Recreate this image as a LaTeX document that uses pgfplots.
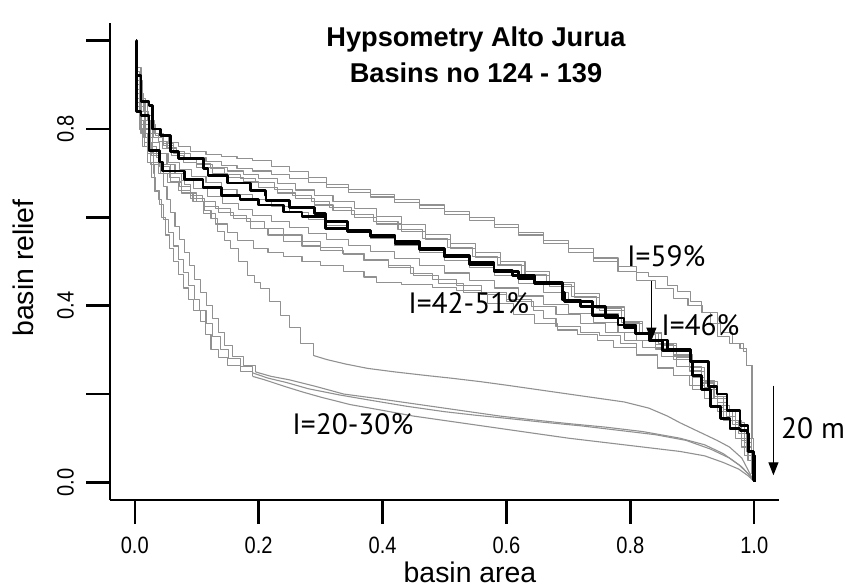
\documentclass[border=0pt]{standalone}
\usepackage{fontspec}
\setmainfont{Liberation Sans}
\newfontfamily\annot{PT Sans}
\usepackage{pgfplots}
\pgfplotsset{compat=1.18}
\usetikzlibrary{arrows.meta}
\definecolor{gl}{RGB}{145,145,145}
\begin{document}
\begin{tikzpicture}
\path[use as bounding box] (0,0) rectangle (422.5pt,293pt);
\begin{axis}[
  at={(55pt,43pt)}, anchor=south west,
  scale only axis, width=334.5pt, height=238.5pt,
  xmin=-0.04, xmax=1.04, ymin=-0.04, ymax=1.04,
  axis x line*=bottom, axis y line*=left,
  axis line style={line width=1.2pt,-},
  every tick/.style={line width=1.2pt, black},
  tick align=outside, major tick length=12pt,
  xtick={0,0.2,0.4,0.6,0.8,1}, xticklabels={0.0,0.2,0.4,0.6,0.8,1.0},
  ytick={0,0.2,0.4,0.6,0.8,1}, yticklabels={0.0,,0.4,,0.8,},
  tick label style={font=\fontsize{11.8}{13}\selectfont},
  xticklabel style={xscale=0.85},
  yticklabel style={rotate=90, xscale=0.85, anchor=south},
  xticklabel shift=3pt, yticklabel shift=2.5pt,
  clip=false,
  const plot,
  every axis plot/.append style={line join=round},
]
% ---- grey basins ----
\addplot[gl, line width=0.55pt] coordinates {(0.004,0.94)(0.010,0.87)(0.018,0.83)(0.028,0.80)(0.04,0.785)(0.055,0.77)(0.07,0.76)(0.09,0.75)(0.115,0.742)(0.14,0.737)(0.165,0.733)(0.19,0.728)(0.22,0.715)(0.25,0.703)(0.28,0.69)(0.31,0.675)(0.345,0.664)(0.38,0.652)(0.42,0.641)(0.46,0.628)(0.50,0.613)(0.54,0.599)(0.58,0.583)(0.62,0.566)(0.66,0.548)(0.70,0.53)(0.74,0.508)(0.78,0.488)(0.81,0.475)(0.83,0.466)(0.86,0.445)(0.876,0.432)(0.897,0.41)(0.915,0.385)(0.94,0.33)(0.96,0.315)(0.977,0.303)(0.988,0.265)(0.997,0.1)(0.999,0.01)};
\addplot[gl, line width=0.55pt] coordinates {(0.003,0.92)(0.008,0.86)(0.016,0.82)(0.026,0.79)(0.038,0.772)(0.052,0.757)(0.068,0.745)(0.09,0.735)(0.115,0.726)(0.14,0.718)(0.165,0.71)(0.19,0.705)(0.22,0.697)(0.25,0.688)(0.28,0.678)(0.31,0.668)(0.345,0.657)(0.38,0.646)(0.42,0.634)(0.46,0.62)(0.50,0.607)(0.54,0.592)(0.58,0.577)(0.62,0.56)(0.66,0.541)(0.70,0.521)(0.74,0.50)(0.78,0.477)(0.81,0.458)(0.84,0.438)(0.87,0.416)(0.893,0.40)(0.916,0.385)(0.93,0.36)(0.945,0.34)(0.965,0.315)(0.982,0.296)(0.988,0.265)(0.996,0.1)(0.999,0.02)};
\addplot[gl, line width=0.55pt] coordinates {(0.003,0.93)(0.007,0.88)(0.014,0.84)(0.022,0.81)(0.033,0.785)(0.047,0.762)(0.062,0.745)(0.08,0.73)(0.1,0.72)(0.125,0.712)(0.15,0.705)(0.175,0.697)(0.2,0.688)(0.23,0.676)(0.26,0.662)(0.29,0.65)(0.32,0.636)(0.355,0.62)(0.39,0.602)(0.43,0.583)(0.47,0.562)(0.51,0.54)(0.55,0.52)(0.59,0.50)(0.63,0.478)(0.67,0.452)(0.71,0.427)(0.75,0.397)(0.79,0.364)(0.82,0.34)(0.85,0.315)(0.875,0.29)(0.9,0.26)(0.92,0.228)(0.94,0.19)(0.955,0.16)(0.97,0.13)(0.985,0.09)(0.995,0.03)};
\addplot[gl, line width=0.55pt] coordinates {(0.004,0.90)(0.01,0.85)(0.018,0.81)(0.03,0.78)(0.045,0.755)(0.06,0.74)(0.078,0.725)(0.1,0.712)(0.125,0.70)(0.15,0.69)(0.175,0.68)(0.2,0.668)(0.23,0.655)(0.26,0.642)(0.29,0.628)(0.32,0.615)(0.355,0.60)(0.39,0.585)(0.43,0.568)(0.47,0.55)(0.51,0.53)(0.55,0.51)(0.59,0.49)(0.63,0.468)(0.67,0.444)(0.71,0.418)(0.75,0.39)(0.79,0.36)(0.82,0.336)(0.85,0.31)(0.875,0.283)(0.9,0.25)(0.92,0.215)(0.94,0.175)(0.96,0.14)(0.975,0.11)(0.988,0.07)(0.997,0.02)};
\addplot[gl, line width=0.55pt] coordinates {(0.005,0.91)(0.012,0.86)(0.02,0.82)(0.032,0.79)(0.046,0.768)(0.062,0.75)(0.08,0.735)(0.1,0.722)(0.122,0.71)(0.145,0.698)(0.17,0.688)(0.195,0.678)(0.225,0.664)(0.255,0.65)(0.285,0.636)(0.315,0.622)(0.35,0.607)(0.385,0.59)(0.425,0.572)(0.465,0.552)(0.505,0.532)(0.545,0.512)(0.585,0.492)(0.625,0.47)(0.665,0.447)(0.705,0.42)(0.745,0.393)(0.785,0.362)(0.815,0.34)(0.845,0.315)(0.87,0.29)(0.895,0.262)(0.915,0.23)(0.935,0.195)(0.955,0.16)(0.97,0.135)(0.985,0.1)(0.995,0.04)(0.999,0.01)};
\addplot[gl, line width=0.55pt] coordinates {(0.003,0.89)(0.008,0.84)(0.016,0.80)(0.026,0.77)(0.04,0.745)(0.055,0.725)(0.072,0.708)(0.092,0.692)(0.115,0.678)(0.14,0.664)(0.165,0.652)(0.19,0.64)(0.22,0.625)(0.25,0.61)(0.28,0.596)(0.31,0.582)(0.345,0.567)(0.38,0.552)(0.42,0.536)(0.46,0.52)(0.50,0.503)(0.54,0.486)(0.58,0.468)(0.62,0.45)(0.66,0.43)(0.70,0.408)(0.74,0.383)(0.78,0.357)(0.81,0.335)(0.84,0.312)(0.87,0.286)(0.895,0.26)(0.915,0.23)(0.935,0.195)(0.95,0.165)(0.965,0.14)(0.98,0.11)(0.99,0.06)(0.998,0.01)};
\addplot[gl, line width=0.55pt] coordinates {(0.004,0.87)(0.009,0.82)(0.017,0.78)(0.028,0.745)(0.042,0.72)(0.058,0.70)(0.075,0.683)(0.095,0.665)(0.118,0.648)(0.142,0.632)(0.167,0.618)(0.19,0.605)(0.22,0.59)(0.25,0.577)(0.28,0.563)(0.31,0.55)(0.345,0.536)(0.38,0.522)(0.42,0.506)(0.46,0.49)(0.50,0.474)(0.54,0.457)(0.58,0.44)(0.62,0.422)(0.66,0.403)(0.70,0.383)(0.74,0.362)(0.78,0.34)(0.81,0.322)(0.84,0.302)(0.87,0.278)(0.895,0.252)(0.915,0.225)(0.935,0.19)(0.95,0.16)(0.965,0.13)(0.98,0.095)(0.99,0.05)(0.998,0.01)};
\addplot[gl, line width=0.55pt] coordinates {(0.003,0.86)(0.008,0.80)(0.015,0.76)(0.025,0.725)(0.038,0.70)(0.053,0.678)(0.07,0.66)(0.09,0.642)(0.112,0.625)(0.135,0.61)(0.16,0.597)(0.187,0.575)(0.215,0.56)(0.24,0.545)(0.27,0.535)(0.3,0.525)(0.337,0.515)(0.37,0.505)(0.41,0.49)(0.445,0.472)(0.48,0.46)(0.52,0.445)(0.56,0.43)(0.6,0.414)(0.64,0.398)(0.68,0.38)(0.72,0.36)(0.76,0.34)(0.79,0.322)(0.82,0.305)(0.85,0.285)(0.875,0.262)(0.9,0.238)(0.92,0.21)(0.94,0.18)(0.955,0.15)(0.97,0.12)(0.985,0.08)(0.996,0.02)};
\addplot[gl, line width=0.55pt] coordinates {(0.003,0.88)(0.008,0.81)(0.016,0.77)(0.027,0.74)(0.04,0.715)(0.056,0.69)(0.072,0.67)(0.09,0.65)(0.11,0.635)(0.13,0.62)(0.155,0.605)(0.18,0.59)(0.21,0.575)(0.24,0.56)(0.27,0.546)(0.3,0.532)(0.335,0.518)(0.37,0.503)(0.41,0.486)(0.45,0.468)(0.49,0.45)(0.53,0.43)(0.57,0.405)(0.611,0.38)(0.645,0.36)(0.682,0.345)(0.715,0.335)(0.747,0.322)(0.773,0.306)(0.81,0.288)(0.844,0.26)(0.87,0.242)(0.895,0.22)(0.92,0.19)(0.94,0.16)(0.96,0.12)(0.98,0.08)(0.995,0.02)};
\addplot[gl, line width=0.55pt] coordinates {(0.004,0.85)(0.01,0.79)(0.02,0.75)(0.03,0.72)(0.042,0.70)(0.058,0.68)(0.075,0.655)(0.094,0.635)(0.111,0.608)(0.13,0.585)(0.15,0.565)(0.166,0.548)(0.192,0.529)(0.215,0.52)(0.24,0.511)(0.27,0.50)(0.3,0.491)(0.337,0.477)(0.37,0.465)(0.39,0.452)(0.43,0.447)(0.48,0.442)(0.52,0.435)(0.56,0.425)(0.6,0.41)(0.644,0.39)(0.66,0.37)(0.68,0.352)(0.72,0.34)(0.75,0.332)(0.784,0.314)(0.81,0.29)(0.844,0.258)(0.87,0.242)(0.9,0.21)(0.93,0.17)(0.95,0.14)(0.97,0.10)(0.985,0.06)(0.997,0.01)};
% ---- steep basins: stepped upper part, smooth lower part ----
\addplot[gl, line width=0.55pt] coordinates {(0.003,0.88)(0.008,0.82)(0.014,0.78)(0.02,0.745)(0.026,0.72)(0.031,0.70)(0.032,0.658)(0.038,0.64)(0.043,0.60)(0.05,0.56)(0.056,0.53)(0.063,0.50)(0.07,0.47)(0.079,0.44)(0.087,0.415)(0.095,0.39)(0.106,0.364)(0.114,0.335)(0.123,0.30)(0.135,0.282)(0.15,0.265)(0.171,0.251)(0.19,0.24)};
\addplot[gl, line width=0.55pt, sharp plot] coordinates {(0.19,0.24)(0.21,0.232)(0.24,0.218)(0.27,0.205)(0.3,0.193)(0.348,0.176)(0.4,0.163)(0.45,0.15)(0.5,0.14)(0.55,0.13)(0.59,0.122)(0.64,0.112)(0.7,0.10)(0.76,0.09)(0.82,0.08)(0.88,0.07)(0.92,0.06)(0.95,0.045)(0.975,0.03)(0.99,0.015)(0.998,0.005)};
\addplot[gl, line width=0.55pt] coordinates {(0.004,0.90)(0.01,0.83)(0.018,0.79)(0.026,0.76)(0.035,0.735)(0.042,0.71)(0.046,0.67)(0.052,0.64)(0.058,0.61)(0.065,0.58)(0.072,0.55)(0.08,0.52)(0.088,0.49)(0.097,0.46)(0.106,0.43)(0.116,0.40)(0.126,0.37)(0.135,0.34)(0.145,0.31)(0.158,0.285)(0.175,0.265)(0.195,0.25)};
\addplot[gl, line width=0.55pt, sharp plot] coordinates {(0.195,0.25)(0.22,0.24)(0.25,0.232)(0.29,0.218)(0.337,0.20)(0.39,0.19)(0.45,0.178)(0.5,0.168)(0.55,0.158)(0.59,0.15)(0.64,0.142)(0.7,0.133)(0.76,0.125)(0.82,0.115)(0.88,0.10)(0.92,0.085)(0.95,0.065)(0.975,0.04)(0.99,0.02)(0.998,0.005)};
\addplot[gl, line width=0.55pt] coordinates {(0.003,0.86)(0.007,0.80)(0.013,0.76)(0.02,0.725)(0.027,0.69)(0.034,0.66)(0.04,0.63)(0.047,0.595)(0.054,0.565)(0.062,0.535)(0.07,0.505)(0.078,0.475)(0.087,0.445)(0.096,0.415)(0.105,0.39)(0.115,0.36)(0.125,0.33)(0.138,0.30)(0.152,0.28)(0.17,0.262)(0.19,0.248)};
\addplot[gl, line width=0.55pt, sharp plot] coordinates {(0.19,0.248)(0.215,0.236)(0.245,0.226)(0.28,0.212)(0.33,0.198)(0.38,0.186)(0.44,0.172)(0.5,0.16)(0.55,0.152)(0.6,0.145)(0.66,0.136)(0.72,0.128)(0.78,0.118)(0.84,0.108)(0.89,0.095)(0.93,0.075)(0.96,0.055)(0.98,0.035)(0.993,0.015)(0.999,0.003)};
\addplot[gl, line width=0.55pt] coordinates {(0.004,0.90)(0.01,0.84)(0.018,0.80)(0.028,0.77)(0.04,0.745)(0.052,0.72)(0.065,0.70)(0.08,0.675)(0.09,0.655)(0.1,0.636)(0.112,0.615)(0.123,0.597)(0.134,0.568)(0.145,0.548)(0.155,0.529)(0.168,0.50)(0.182,0.468)(0.193,0.452)(0.203,0.439)(0.218,0.41)(0.235,0.378)(0.25,0.35)(0.268,0.315)(0.289,0.287)};
\addplot[gl, line width=0.55pt, sharp plot] coordinates {(0.289,0.287)(0.31,0.278)(0.34,0.268)(0.376,0.258)(0.42,0.25)(0.47,0.242)(0.51,0.236)(0.558,0.228)(0.6,0.22)(0.65,0.21)(0.7,0.20)(0.75,0.19)(0.79,0.182)(0.83,0.168)(0.86,0.15)(0.88,0.135)(0.91,0.115)(0.94,0.095)(0.96,0.08)(0.98,0.055)(0.993,0.02)(0.999,0.003)};
% ---- black basins ----
\addplot[black, line width=1.35pt] coordinates {(0.002,1.000)(0.003,0.840)(0.010,0.830)(0.023,0.752)(0.040,0.725)(0.045,0.705)(0.080,0.686)(0.110,0.668)(0.140,0.650)(0.170,0.640)(0.200,0.628)(0.240,0.612)(0.270,0.602)(0.308,0.575)(0.343,0.568)(0.380,0.556)(0.420,0.540)(0.460,0.527)(0.500,0.510)(0.540,0.494)(0.580,0.477)(0.620,0.462)(0.645,0.452)(0.690,0.413)(0.720,0.398)(0.760,0.372)(0.790,0.350)(0.808,0.337)(0.832,0.322)(0.860,0.300)(0.897,0.274)(0.900,0.242)(0.915,0.210)(0.929,0.172)(0.945,0.145)(0.961,0.122)(0.977,0.118)(0.989,0.111)(0.990,0.070)(0.998,0.005)(1.0,0.005)};
\addplot[black, line width=1.35pt] coordinates {(0.002,0.921)(0.010,0.862)(0.023,0.853)(0.029,0.800)(0.042,0.785)(0.058,0.749)(0.071,0.733)(0.111,0.710)(0.118,0.695)(0.150,0.678)(0.187,0.660)(0.211,0.649)(0.212,0.638)(0.250,0.622)(0.290,0.608)(0.308,0.590)(0.343,0.570)(0.380,0.560)(0.420,0.546)(0.460,0.530)(0.500,0.514)(0.540,0.497)(0.580,0.480)(0.610,0.468)(0.645,0.450)(0.690,0.430)(0.694,0.410)(0.739,0.378)(0.780,0.356)(0.808,0.337)(0.830,0.321)(0.852,0.299)(0.869,0.299)(0.897,0.274)(0.926,0.217)(0.940,0.200)(0.956,0.163)(0.977,0.129)(0.990,0.110)(0.991,0.070)(0.999,0.060)(1.0,0.0)};
% ---- annotations ----
\draw[line width=0.6pt, -{Triangle[length=6.5pt,width=5pt]}] (axis cs:0.834,0.457) -- (axis cs:0.834,0.321);
\draw[line width=0.6pt, -{Triangle[length=6.5pt,width=5pt]}] (axis cs:1.031,0.219) -- (axis cs:1.031,0.016);
\node[font=\annot\fontsize{14.7}{16}\selectfont] at (axis cs:0.858,0.511) {I=59\%};
\node[font=\annot\fontsize{14.7}{16}\selectfont] at (axis cs:0.539,0.405) {I=42-51\%};
\node[font=\annot\fontsize{14.7}{16}\selectfont] at (axis cs:0.913,0.355) {I=46\%};
\node[font=\annot\fontsize{14.7}{16}\selectfont] at (axis cs:0.352,0.131) {I=20-30\%};
\node[font=\annot\fontsize{14.7}{16}\selectfont] at (axis cs:1.095,0.122) {20 m};
\end{axis}
\node[font=\bfseries\fontsize{13.6}{16}\selectfont, anchor=base] at (238pt,270pt) {Hypsometry Alto Jurua};
\node[font=\bfseries\fontsize{13.6}{16}\selectfont, anchor=base] at (238pt,252pt) {Basins no 124 - 139};
\node[font=\fontsize{14.2}{16}\selectfont, anchor=base] at (235pt,2pt) {basin area};
\node[font=\fontsize{14.2}{16}\selectfont, anchor=base, rotate=90] at (17pt,159pt) {basin relief};
\end{tikzpicture}
\end{document}
